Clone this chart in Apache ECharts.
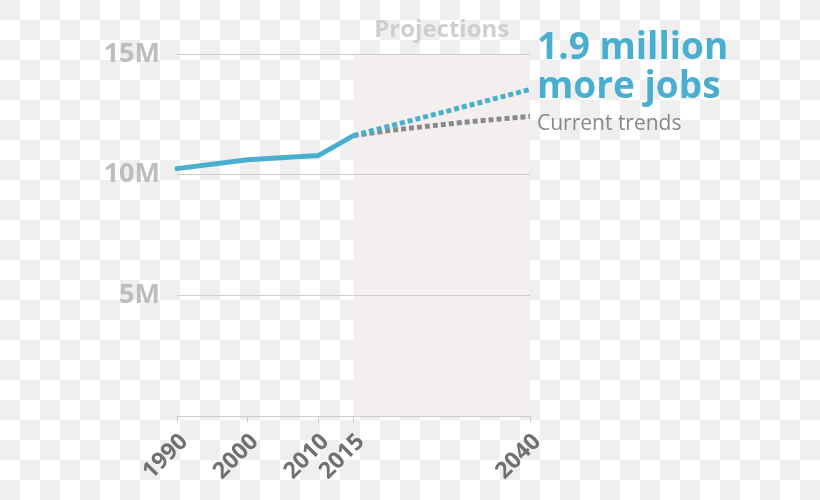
<!DOCTYPE html>
<html>
<head>
<meta charset="utf-8">
<script src="https://cdn.jsdelivr.net/npm/echarts@6/dist/echarts.min.js"></script>
<style>
  html, body { margin: 0; padding: 0; }
  body {
    width: 820px; height: 500px;
    background: repeating-conic-gradient(#ffffff 0 25%, #efefef 0 50%) 0 0 / 40px 40px;
  }
  #chart { width: 820px; height: 500px; }
</style>
</head>
<body>
<div id="chart"></div>
<script>
// Data (millions of jobs)
const historyYears = [1990, 2000, 2010, 2015];
const historyValues = [10.25, 10.62, 10.79, 11.62];
const projectedYears = [2015, 2040];
const projectedValues = [11.62, 13.53];
const trendYears = [2015, 2020, 2030, 2040];
const trendValues = [11.62, 11.83, 12.15, 12.42];
const xTickYears = [1990, 2000, 2010, 2015, 2040];
const projectionRange = [2015, 2040];
const projectionLabel = 'Projections';
const projectedLabel = '1.9 million\nmore jobs';
const trendLabel = 'Current trends';

const pairs = (xs, ys) => xs.map((x, i) => [x, ys[i]]);

const BLUE = '#4aafcf';
const GRAY = '#8a8a8a';

const chart = echarts.init(document.getElementById('chart'));
chart.setOption({
  backgroundColor: 'transparent',
  animation: false,
  grid: { left: 177, right: 290, top: 54, bottom: 84 },
  xAxis: {
    type: 'value',
    min: 1990,
    max: 2040,
    zlevel: 1,
    splitLine: { show: false },
    axisLine: { show: true, lineStyle: { color: '#cccccc', width: 1 } },
    axisTick: {
      show: true,
      customValues: xTickYears,
      length: 6,
      lineStyle: { color: '#cccccc' }
    },
    axisLabel: {
      customValues: xTickYears,
      rotate: 45,
      margin: 15,
      verticalAlign: 'top',
      lineHeight: 20,
      color: '#707070',
      fontFamily: 'Open Sans',
      fontWeight: 'bold',
      fontSize: 23,
      formatter: v => String(v)
    }
  },
  yAxis: {
    type: 'value',
    min: 0,
    max: 15,
    interval: 5,
    zlevel: 1,
    axisLine: { show: false },
    axisTick: { show: false },
    splitLine: { lineStyle: { color: '#cfcfcf', width: 1 } },
    axisLabel: {
      margin: 17,
      color: '#bdbdbd',
      fontFamily: 'Open Sans',
      fontWeight: 'bold',
      fontSize: 27,
      formatter: v => (v === 0 ? '' : v + 'M')
    }
  },
  series: [
    {
      type: 'line',
      data: [],
      zlevel: 0,
      silent: true,
      markArea: {
        silent: true,
        itemStyle: { color: '#f2efee' },
        label: {
          show: true,
          position: 'top',
          distance: 12,
          color: '#d2cece',
          fontFamily: 'Open Sans',
          fontWeight: 'bold',
          fontSize: 24
        },
        data: [[{ xAxis: projectionRange[0], name: projectionLabel }, { xAxis: projectionRange[1] }]]
      }
    },
    {
      type: 'line',
      data: pairs(trendYears, trendValues),
      symbol: 'none',
      zlevel: 2,
      lineStyle: { color: GRAY, width: 5, type: [5, 3], cap: 'butt' },
      endLabel: {
        show: true,
        formatter: trendLabel,
        color: '#888888',
        fontFamily: 'Open Sans',
        fontWeight: 'normal',
        fontSize: 21,
        offset: [-1, 8]
      },
      z: 2
    },
    {
      type: 'line',
      data: pairs(projectedYears, projectedValues),
      symbol: 'none',
      zlevel: 2,
      lineStyle: { color: BLUE, width: 5, type: [5, 3], cap: 'butt' },
      endLabel: {
        show: true,
        formatter: projectedLabel,
        color: BLUE,
        fontFamily: 'Open Sans',
        fontWeight: 'bold',
        fontSize: 37,
        lineHeight: 39,
        offset: [-1, -22]
      },
      z: 3
    },
    {
      type: 'line',
      data: pairs(historyYears, historyValues),
      symbol: 'none',
      zlevel: 2,
      lineStyle: { color: BLUE, width: 5, cap: 'round', join: 'round' },
      z: 4
    }
  ]
});
</script>
</body>
</html>
